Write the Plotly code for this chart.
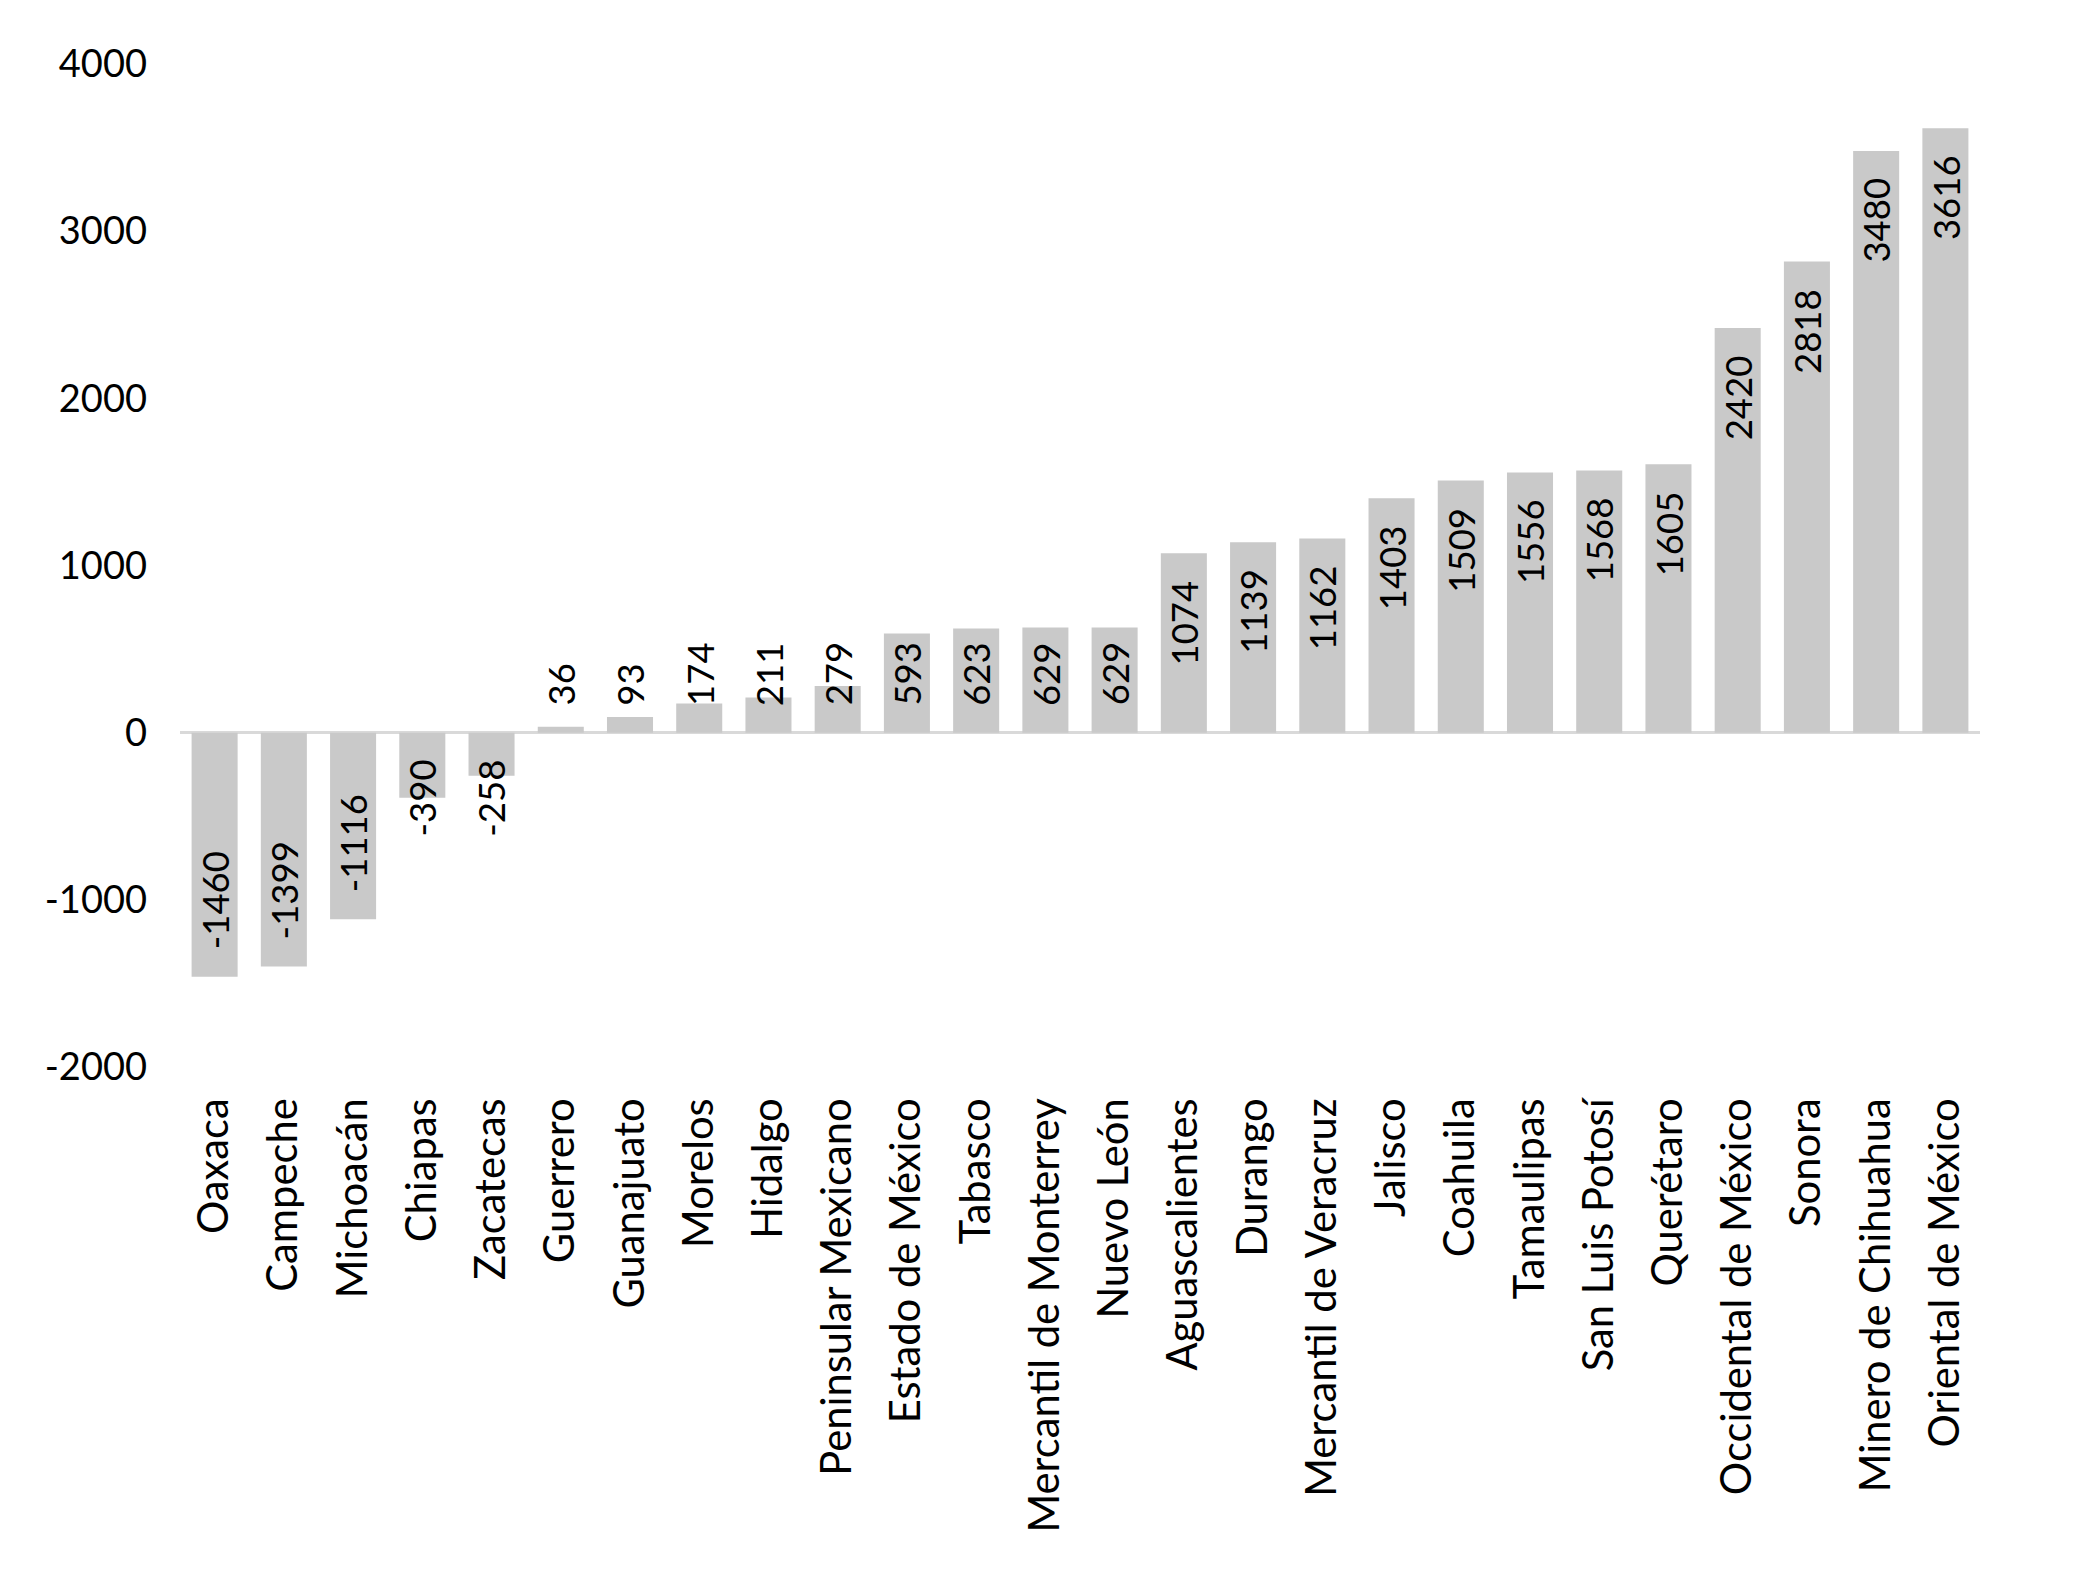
import plotly.graph_objects as go

categories = ["Oaxaca", "Campeche", "Michoacán", "Chiapas", "Zacatecas", "Guerrero",
              "Guanajuato", "Morelos", "Hidalgo", "Peninsular Mexicano", "Estado de México",
              "Tabasco", "Mercantil de Monterrey", "Nuevo León", "Aguascalientes", "Durango",
              "Mercantil de Veracruz", "Jalisco", "Coahuila", "Tamaulipas", "San Luis Potosí",
              "Querétaro", "Occidental de México", "Sonora", "Minero de Chihuahua",
              "Oriental de México"]
values = [-1460, -1399, -1116, -390, -258, 36, 93, 174, 211, 279, 593, 623, 629, 629,
          1074, 1139, 1162, 1403, 1509, 1556, 1568, 1605, 2420, 2818, 3480, 3616]
y_ticks = [-2000, -1000, 0, 1000, 2000, 3000, 4000]

W, H = 2073, 1569
M_L, M_R, M_T, M_B = 172, 101, 56, 510
Y_RANGE = [-2000, 4000]
FONT = "Lato"
FS = 36.5
FS_CAT = 41.7
FS_Y = 38
PAD = 26

px_per_unit = (H - M_T - M_B) / (Y_RANGE[1] - Y_RANGE[0])

def text_len(s):
    return sum(0.39 * FS if ch == "-" else 0.58 * FS for ch in s)

fig = go.Figure(go.Bar(
    x=categories, y=values,
    marker=dict(color="#C9C9C9", line=dict(width=0)),
    hoverinfo="x+y",
))

annotations = []
for cat, v in zip(categories, values):
    s = str(v)
    fits = text_len(s) + 2 * PAD <= abs(v) * px_per_unit
    if v >= 0:
        if fits:
            a = dict(y=v, yanchor="top", yshift=-PAD)
        else:
            a = dict(y=0, yanchor="bottom", yshift=PAD)
    else:
        if fits:
            a = dict(y=v, yanchor="bottom", yshift=PAD)
        else:
            a = dict(y=0, yanchor="top", yshift=-PAD)
    a.update(x=cat, xref="x", yref="y", text=s, showarrow=False, textangle=-90,
             xanchor="center", font=dict(family=FONT, size=FS, color="#000000"),
             borderpad=0)
    annotations.append(a)

fig.update_layout(
    width=W, height=H,
    margin=dict(l=M_L, r=M_R, t=M_T, b=M_B, pad=0),
    plot_bgcolor="white", paper_bgcolor="white",
    bargap=0.335,
    showlegend=False,
    font=dict(family=FONT, size=FS, color="#000000"),
    annotations=annotations,
)
fig.update_xaxes(
    type="category", tickangle=-90, showgrid=False, showline=False, ticks="",
    tickfont=dict(family=FONT, size=FS_CAT, color="#000000"),
    ticklabelstandoff=22,
)
fig.update_yaxes(
    range=Y_RANGE, tickvals=y_ticks, ticktext=[str(t) for t in y_ticks],
    showgrid=False, showline=False, ticks="",
    zeroline=True, zerolinecolor="#D9D9D9", zerolinewidth=3,
    tickfont=dict(family=FONT, size=FS_Y, color="#000000"),
    ticklabelstandoff=32,
)

fig.write_html("out.html")
